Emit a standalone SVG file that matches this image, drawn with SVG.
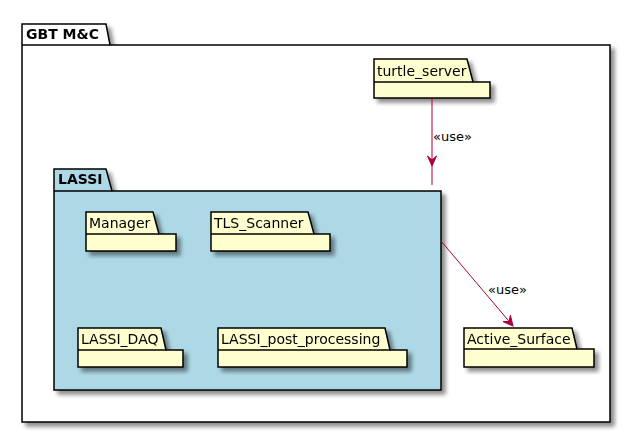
<svg xmlns="http://www.w3.org/2000/svg" width="631" height="434" viewBox="0 0 631 434">
<defs>
<filter id="sh" x="-10%" y="-10%" width="130%" height="130%">
<feGaussianBlur in="SourceAlpha" stdDeviation="2"/>
<feOffset dx="4" dy="4" result="b"/>
<feComponentTransfer in="b" result="c"><feFuncA type="linear" slope="0.45"/></feComponentTransfer>
<feMerge><feMergeNode in="c"/><feMergeNode in="SourceGraphic"/></feMerge>
</filter>
<marker id="ah" viewBox="0 0 12 12" refX="10" refY="6" markerWidth="12" markerHeight="12" markerUnits="userSpaceOnUse" orient="auto">
<path d="M0,1 L10,6 L0,11 L4,6 Z" fill="#A80036" stroke="#A80036" stroke-width="1"/>
</marker>
<style>
.pk{fill:#FEFECE;stroke:#000;stroke-width:1.5}
.outer{fill:#FFFFFF;stroke:#000;stroke-width:1.5}
.lassi{fill:#ADD8E6;stroke:#000;stroke-width:1.5}
text{font-family:"DejaVu Sans","Noto Sans",sans-serif;fill:#000}
.t{font-size:14px}
.b{font-size:14px;font-weight:bold}
.l{font-size:13px}
.cn{stroke:#A80036;stroke-width:1;fill:none}
</style>
</defs>
<g id="gbt" filter="url(#sh)">
<path class="outer" d="M22,24 L106,24 L110,45 L610,45 L610,422 L22,422 Z"/>
<line x1="22" y1="45" x2="110" y2="45" stroke="#000" stroke-width="1.5"/>
<text class="b" x="26" y="39">GBT M&amp;C</text>
</g>
<g id="lassi" filter="url(#sh)">
<path class="lassi" d="M54,169 L106,169 L112,191 L441,191 L441,390 L54,390 Z"/>
<line x1="54" y1="191" x2="112" y2="191" stroke="#000" stroke-width="1.5"/>
<text class="b" x="58" y="184">LASSI</text>
</g>
<g id="turtle_server" filter="url(#sh)">
<path class="pk" d="M374,59 L467,59 L473,82 L490,82 L490,98 L374,98 Z"/>
<line x1="374" y1="82" x2="473" y2="82" stroke="#000" stroke-width="1.5"/>
<text class="t" x="377" y="76">turtle_server</text>
</g>
<g id="manager" filter="url(#sh)">
<path class="pk" d="M86,212 L153,212 L159,234 L176,234 L176,251 L86,251 Z"/>
<line x1="86" y1="234" x2="159" y2="234" stroke="#000" stroke-width="1.5"/>
<text class="t" x="89" y="228">Manager</text>
</g>
<g id="tls_scanner" filter="url(#sh)">
<path class="pk" d="M211,212 L308,212 L314,234 L330,234 L330,251 L211,251 Z"/>
<line x1="211" y1="234" x2="314" y2="234" stroke="#000" stroke-width="1.5"/>
<text class="t" x="214" y="228">TLS_Scanner</text>
</g>
<g id="lassi_daq" filter="url(#sh)">
<path class="pk" d="M78,328 L161,328 L166,350 L183,350 L183,367 L78,367 Z"/>
<line x1="78" y1="350" x2="166" y2="350" stroke="#000" stroke-width="1.5"/>
<text class="t" x="81" y="344">LASSI_DAQ</text>
</g>
<g id="lassi_post_processing" filter="url(#sh)">
<path class="pk" d="M218,328 L385,328 L390,350 L407,350 L407,367 L218,367 Z"/>
<line x1="218" y1="350" x2="390" y2="350" stroke="#000" stroke-width="1.5"/>
<text class="t" x="221" y="344">LASSI_post_processing</text>
</g>
<g id="active_surface" filter="url(#sh)">
<path class="pk" d="M464,328 L572,328 L577,349 L594,349 L594,367 L464,367 Z"/>
<line x1="464" y1="349" x2="577" y2="349" stroke="#000" stroke-width="1.5"/>
<text class="t" x="467" y="344">Active_Surface</text>
</g>
<g id="connectors">
<line class="cn" x1="432" y1="98" x2="432" y2="185"/>
<path d="M427.5,156 L432,166 L436.5,156 L432,160 Z" fill="#A80036" stroke="#A80036" stroke-width="1"/>
<text class="l" x="433" y="141">«use»</text>
<line class="cn" x1="441" y1="241" x2="513" y2="326" marker-end="url(#ah)"/>
<text class="l" x="488" y="294">«use»</text>
</g>
</svg>
